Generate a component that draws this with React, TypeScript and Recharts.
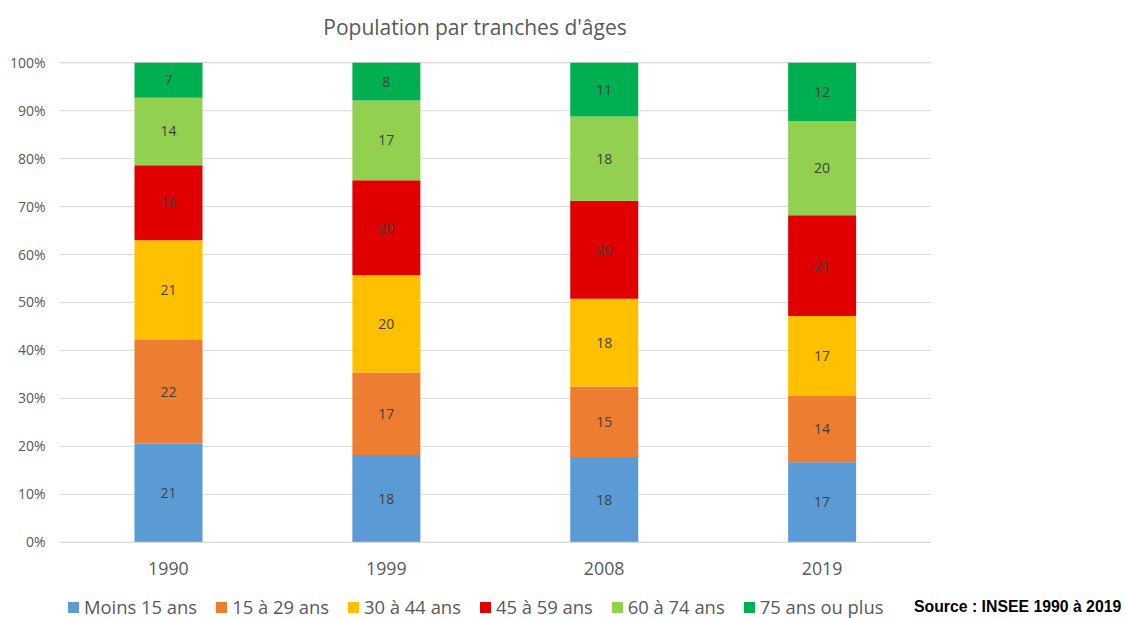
import {
  BarChart,
  Bar,
  XAxis,
  YAxis,
  CartesianGrid,
  LabelList,
} from "recharts";

const YEARS = ["1990", "1999", "2008", "2019"];

const MOINS_15 = [20.6, 18.2, 17.8, 16.7];
const DE_15_29 = [21.6, 17.2, 14.7, 13.8];
const DE_30_44 = [20.8, 20.3, 18.3, 16.7];
const DE_45_59 = [15.6, 19.8, 20.4, 21.0];
const DE_60_74 = [14.1, 16.6, 17.6, 19.6];
const PLUS_75 = [7.3, 7.9, 11.2, 12.2];

const Y_TICKS = [0, 10, 20, 30, 40, 50, 60, 70, 80, 90, 100];

const SERIES = [
  { key: "m15", name: "Moins 15 ans", values: MOINS_15, color: "#5B9BD5" },
  { key: "a15", name: "15 à 29 ans", values: DE_15_29, color: "#ED7D31" },
  { key: "a30", name: "30 à 44 ans", values: DE_30_44, color: "#FFC000" },
  { key: "a45", name: "45 à 59 ans", values: DE_45_59, color: "#E00000" },
  { key: "a60", name: "60 à 74 ans", values: DE_60_74, color: "#92D050" },
  { key: "p75", name: "75 ans ou plus", values: PLUS_75, color: "#00B050" },
];

const data = YEARS.map((year, i) => {
  const row: { [k: string]: string | number } = { year };
  SERIES.forEach((s) => {
    row[s.key] = s.values[i];
  });
  return row;
});

const FONT = "'Open Sans', sans-serif";

function ChartLegend() {
  return (
    <div
      style={{
        position: "absolute",
        left: 68,
        top: 597,
        height: 20,
        lineHeight: "20px",
        display: "flex",
        alignItems: "center",
        fontFamily: FONT,
        fontSize: 18.4,
        color: "#595959",
        whiteSpace: "nowrap",
      }}
    >
      {SERIES.map((s) => (
        <span
          key={s.key}
          style={{
            display: "flex",
            alignItems: "center",
            marginRight: 19,
            height: 20,
          }}
        >
          <span
            style={{
              width: 11,
              height: 11,
              background: s.color,
              marginRight: 5,
              display: "inline-block",
            }}
          />
          {s.name}
        </span>
      ))}
    </div>
  );
}

export default function App() {
  return (
    <div
      style={{
        position: "absolute",
        left: 0,
        top: 0,
        width: 1125,
        height: 618,
        background: "#fff",
        overflow: "hidden",
      }}
    >
      <div
        style={{
          position: "absolute",
          left: 0,
          width: 950,
          top: 13,
          lineHeight: "28px",
          textAlign: "center",
          fontFamily: FONT,
          fontSize: 21,
          color: "#595959",
        }}
      >
        Population par tranches d'âges
      </div>
      <BarChart
        width={1125}
        height={618}
        data={data}
        margin={{ top: 62.7, right: 194, bottom: 45.7, left: 9.5 }}
      >
        <CartesianGrid vertical={false} stroke="#d9d9d9" />
        <XAxis
          dataKey="year"
          height={30}
          tickLine={false}
          axisLine={{ stroke: "#d9d9d9" }}
          tickSize={0}
          tickMargin={20}
          tick={{ fill: "#595959", fontSize: 17.8, fontFamily: FONT }}
        />
        <YAxis
          width={50}
          domain={[0, 100]}
          ticks={Y_TICKS}
          tickFormatter={(v: number) => `${v}%`}
          tickLine={false}
          axisLine={false}
          tickSize={0}
          tickMargin={14}
          tick={{ fill: "#595959", fontSize: 14, fontFamily: FONT }}
        />
        {SERIES.map((s) => (
          <Bar
            key={s.key}
            dataKey={s.key}
            name={s.name}
            stackId="a"
            fill={s.color}
            barSize={68}
            isAnimationActive={false}
          >
            <LabelList
              dataKey={s.key}
              position="center"
              formatter={(v: number) => Math.round(v)}
              fill="#404040"
              fontSize={14}
              fontFamily={FONT}
            />
          </Bar>
        ))}
      </BarChart>
      <ChartLegend />
      <div
        style={{
          position: "absolute",
          left: 914,
          top: 597,
          lineHeight: "20px",
          fontFamily: "'Liberation Sans', Arial, sans-serif",
          fontWeight: "bold",
          fontSize: 15.8,
          color: "#000",
          whiteSpace: "nowrap",
        }}
      >
        Source : INSEE 1990 à 2019
      </div>
    </div>
  );
}
